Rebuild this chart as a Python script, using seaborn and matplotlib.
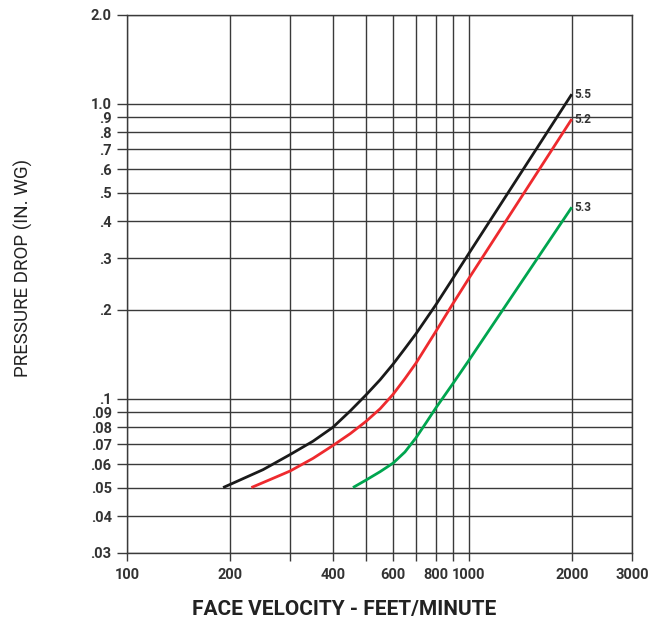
import matplotlib
matplotlib.use('Agg')
import matplotlib.pyplot as plt
import seaborn as sns
import pandas as pd

# Face velocity (ft/min) vs pressure drop (in. wg)
black_x = [191, 200, 250, 300, 350, 400, 450, 500, 550, 600, 650, 700, 800, 900, 1000, 2000]
black_y = [0.050, 0.0512, 0.0575, 0.0647, 0.0718, 0.080, 0.091, 0.103, 0.116, 0.131, 0.148, 0.166,
           0.208, 0.257, 0.311, 1.078]

red_x = [231, 270, 300, 350, 400, 450, 500, 550, 600, 650, 700, 800, 900, 1000, 2000]
red_y = [0.050, 0.054, 0.0569, 0.0628, 0.0694, 0.0762, 0.0838, 0.0925, 0.1035, 0.117, 0.132,
         0.169, 0.211, 0.256, 0.888]

green_x = [458, 500, 550, 600, 650, 700, 750, 800, 900, 1000, 2000]
green_y = [0.050, 0.053, 0.0566, 0.0605, 0.066, 0.0737, 0.083, 0.093, 0.113, 0.135, 0.446]

series_names = ['5.5', '5.2', '5.3']
series_colors = ['#1a1a1a', '#ee2a2e', '#00a54f']

x_ticks = [100, 200, 300, 400, 500, 600, 700, 800, 900, 1000, 2000, 3000]
x_labels = ['100', '200', '', '400', '', '600', '', '800', '', '1000', '2000', '3000']
y_ticks = [0.03, 0.04, 0.05, 0.06, 0.07, 0.08, 0.09, 0.1, 0.2, 0.3, 0.4, 0.5,
           0.6, 0.7, 0.8, 0.9, 1.0, 2.0]
y_labels = ['.03', '.04', '.05', '.06', '.07', '.08', '.09', '.1', '.2', '.3', '.4', '.5',
            '.6', '.7', '.8', '.9', '1.0', '2.0']

df = pd.concat([
    pd.DataFrame({'velocity': black_x, 'pressure': black_y, 'filter': series_names[0]}),
    pd.DataFrame({'velocity': red_x, 'pressure': red_y, 'filter': series_names[1]}),
    pd.DataFrame({'velocity': green_x, 'pressure': green_y, 'filter': series_names[2]}),
], ignore_index=True)

sns.set_style('white')
plt.rcParams['font.family'] = ['Roboto', 'DejaVu Sans']

grid_col = '#3a3a3a'
text_col = '#333333'

fig = plt.figure(figsize=(6.64, 6.25), dpi=100)
ax = fig.add_axes([0.1913, 0.1152, 0.7605, 0.8608])

ax.set_xscale('log')
ax.set_yscale('log')

sns.lineplot(data=df, x='velocity', y='pressure', hue='filter',
             palette=dict(zip(series_names, series_colors)),
             estimator=None, sort=False, legend=False, lw=2, ax=ax, zorder=3,
             solid_joinstyle='round', solid_capstyle='butt')

ax.set_xlim(100, 3000)
ax.set_ylim(0.03, 2.0)

ax.set_xticks(x_ticks, x_labels)
ax.set_yticks(y_ticks, y_labels)
ax.xaxis.set_minor_locator(matplotlib.ticker.NullLocator())
ax.yaxis.set_minor_locator(matplotlib.ticker.NullLocator())

ax.grid(True, which='major', color=grid_col, lw=1.0)
ax.tick_params(axis='x', length=6, width=1.0, color=grid_col, pad=5,
               labelsize=10.5, labelcolor=text_col, bottom=True)
ax.tick_params(axis='y', length=7, width=1.0, color=grid_col, pad=4,
               labelsize=10.5, labelcolor=text_col, left=True)
for lab in ax.get_xticklabels() + ax.get_yticklabels():
    lab.set_fontweight('bold')

for sp in ax.spines.values():
    sp.set_color(grid_col)
    sp.set_linewidth(1.0)

ax.set_xlabel('')
ax.set_ylabel('')

# curve labels at the right end
ends = [(black_x[-1], black_y[-1]), (red_x[-1], red_y[-1]), (green_x[-1], green_y[-1])]
for name, (ex, ey) in zip(series_names, ends):
    ax.text(ex * 1.015, ey, name, fontsize=8.5, fontweight='bold', color=text_col,
            va='center', ha='left')

fig.text(0.518, 0.024, 'FACE VELOCITY - FEET/MINUTE', ha='center', va='center',
         fontsize=15, fontweight='bold', color='#222222')
fig.text(0.0346, 0.571, 'PRESSURE DROP (IN. WG)', ha='center', va='center',
         rotation=90, fontsize=13.5, color='#222222')

fig.savefig('out.png', dpi=100)
